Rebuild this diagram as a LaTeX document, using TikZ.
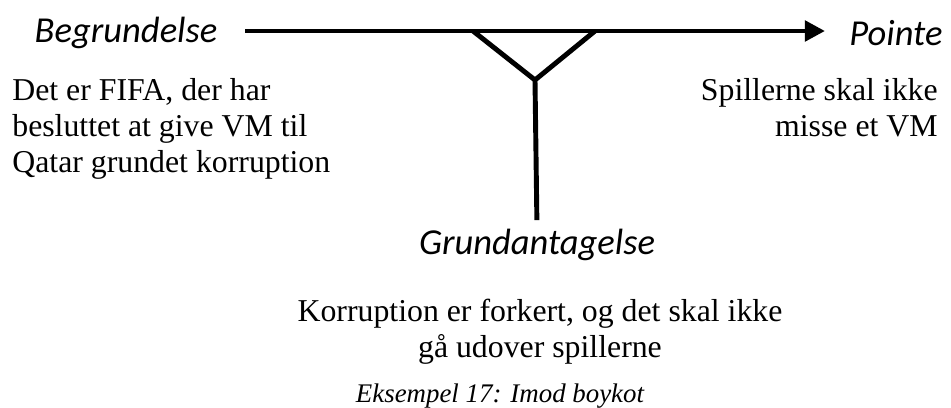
\documentclass[tikz,border=0pt]{standalone}
\usepackage{fontspec}
\setmainfont{Liberation Serif}
\newfontfamily\headfont{Carlito}
\usetikzlibrary{arrows.meta,positioning}
\tikzset{
  headtxt/.style={font=\headfont\itshape\fontsize{20.8}{24}\selectfont, inner sep=0pt},
  bodytxt/.style={font=\fontsize{18.1}{20.6}\selectfont, inner sep=0pt},
  captxt/.style={font=\itshape\fontsize{15.3}{18}\selectfont, inner sep=0pt},
  thick line/.style={line width=2.8pt}
}
\begin{document}
\begin{tikzpicture}[line cap=butt,line join=miter,x=0.02cm,y=0.02cm]
    \useasboundingbox (0,0) rectangle (951,407);
    % headings
    \node[headtxt] (beg) at (126,374) {Begrundelse};
    \node[headtxt] (pointe) at (896,374) {Pointe};
    \node[headtxt] (grund) at (537,162) {Grundantagelse};
    % texts under the headings
    \node[bodytxt,align=left,anchor=north west] (begtxt) at (12,329) {Det er FIFA, der har\\besluttet at give VM til\\Qatar grundet korruption};
    \node[bodytxt,align=right,anchor=north east] (pointetxt) at (938,329) {Spillerne skal ikke\\misse et VM};
    \node[bodytxt,align=center,anchor=north] (grundtxt) at (540,108) {Korruption er forkert, og det skal ikke\\gå udover spillerne};
    \node[captxt,anchor=base] (cap) at (500,5) {Eksempel 17: Imod boykot};
    % the line and the Y
    \coordinate (ls) at (245,376);
    \coordinate (le) at (825,376);
    \coordinate (ya) at (473,376);
    \coordinate (yb) at (595,376);
    \coordinate (yj) at (535,327);
    \draw[thick line,-{Triangle[length=11.5pt,width=11.5pt]}] (ls) -- (le);
    \draw[thick line] (ya) -- (yj) -- (yb);
    \draw[thick line,shorten >=5pt] (yj) -- (grund.north);
\end{tikzpicture}
\end{document}
